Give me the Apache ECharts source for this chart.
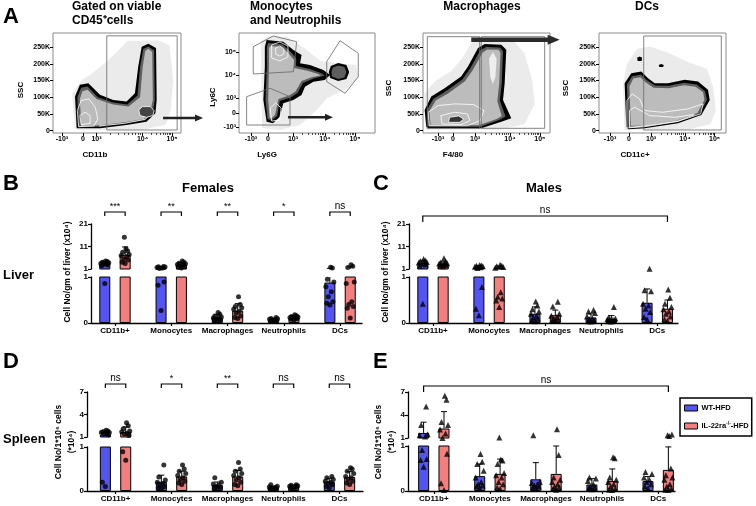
<!DOCTYPE html>
<html>
<head>
<meta charset="utf-8">
<script src="https://cdn.jsdelivr.net/npm/echarts@6/dist/echarts.min.js"></script>
<style>
  html, body { margin: 0; padding: 0; background: #fff; }
  #chart { width: 756px; height: 506px; }
</style>
</head>
<body>
<div id="chart"></div>
<script>
var FONT = 'Liberation Sans, Arial, sans-serif';
var BLUE = '#5454f2', RED = '#f47e7e';
var KO_NAME = 'IL-22ra-/--HFD';

var categories = ['CD11b+', 'Monocytes', 'Macrophages', 'Neutrophils', 'DCs'];

// B: liver, females (x10^4 cells / gm)
var liverFemWtMean = [3.2, 1.4, 0.11, 0.07, 0.88];
var liverFemWtSd   = [1.2, 0.6, 0.07, 0.03, 0.42];
var liverFemKoMean = [7.3, 2.9, 0.27, 0.12, 1.05];
var liverFemKoSd   = [3.5, 0.9, 0.15, 0.04, 0.9];
var liverFemWtPts = [
  [0.86, 2.4, 2.8, 3.0, 3.2, 3.5, 3.8, 4.0, 4.3, 4.6],
  [0.27, 0.82, 0.89, 1.2, 1.5, 1.7, 1.9, 2.0, 2.1],
  [0.03, 0.05, 0.07, 0.08, 0.1, 0.11, 0.13, 0.15, 0.19, 0.23],
  [0.03, 0.04, 0.05, 0.06, 0.07, 0.08, 0.09, 0.1, 0.12],
  [0.39, 0.43, 0.46, 0.57, 0.68, 0.79, 0.89, 0.95, 1.5, 1.8]
];
var liverFemKoPts = [
  [3.5, 4.0, 5.0, 5.5, 6.5, 7.0, 7.5, 8.5, 9.0, 10.0, 15.1],
  [1.5, 1.8, 2.0, 2.3, 2.6, 3.0, 3.3, 3.6, 4.0, 4.6],
  [0.10, 0.12, 0.15, 0.21, 0.25, 0.30, 0.33, 0.36, 0.40, 0.57],
  [0.06, 0.08, 0.09, 0.1, 0.11, 0.12, 0.13, 0.14, 0.16, 0.18],
  [0.11, 0.32, 0.36, 0.4, 0.46, 0.86, 0.89, 1.7, 2.2, 2.9]
];
var liverFemSig = ['***', '**', '**', '*', 'ns'];

// C: liver, males
var liverMaleWtMean = [3.6, 1.7, 0.2, 0.12, 0.44];
var liverMaleWtSd   = [1.3, 0.9, 0.15, 0.08, 0.3];
var liverMaleKoMean = [3.2, 1.4, 0.17, 0.09, 0.31];
var liverMaleKoSd   = [1.0, 0.9, 0.11, 0.07, 0.19];
var liverMaleWtPts = [
  [0.42, 2.5, 3.0, 3.3, 3.6, 3.9, 4.1, 4.4, 4.8, 5.5],
  [0.17, 0.31, 0.78, 1.5, 1.8, 2.0, 2.2, 2.4, 2.6, 2.8],
  [0.04, 0.06, 0.09, 0.12, 0.16, 0.2, 0.25, 0.3, 0.38, 0.47],
  [0.03, 0.04, 0.06, 0.08, 0.1, 0.14, 0.22, 0.25, 0.28],
  [0.08, 0.13, 0.24, 0.31, 0.38, 0.42, 0.69, 0.71, 1.15]
];
var liverMaleKoPts = [
  [2.2, 2.5, 2.8, 3.0, 3.2, 3.4, 3.6, 3.9, 4.3, 5.8],
  [0.35, 0.49, 0.53, 0.57, 0.67, 1.6, 1.9, 2.2, 2.5, 2.9],
  [0.05, 0.06, 0.08, 0.1, 0.13, 0.16, 0.2, 0.36, 0.46],
  [0.03, 0.04, 0.05, 0.06, 0.07, 0.08, 0.1, 0.12, 0.35],
  [0.05, 0.08, 0.14, 0.2, 0.25, 0.3, 0.35, 0.42, 0.55, 0.73]
];
var liverMaleSig = ['ns'];

// D: spleen, females (x10^4 per 10^6 cells)
var spleenFemWtMean = [1.3, 0.21, 0.135, 0.075, 0.21];
var spleenFemWtSd   = [0.6, 0.15, 0.07, 0.03, 0.08];
var spleenFemKoMean = [1.65, 0.33, 0.33, 0.1, 0.32];
var spleenFemKoSd   = [0.7, 0.12, 0.14, 0.03, 0.12];
var spleenFemWtPts = [
  [0.1, 0.2, 1.3, 1.4, 1.5, 1.6, 1.6, 1.7, 1.8, 1.9],
  [0.05, 0.07, 0.1, 0.13, 0.17, 0.2, 0.25, 0.32, 0.59],
  [0.05, 0.06, 0.08, 0.1, 0.13, 0.16, 0.2, 0.3],
  [0.04, 0.05, 0.06, 0.07, 0.08, 0.09, 0.11, 0.14],
  [0.07, 0.1, 0.14, 0.17, 0.2, 0.22, 0.26, 0.3, 0.33]
];
var spleenFemKoPts = [
  [0.7, 0.89, 1.2, 1.4, 1.5, 1.7, 1.8, 2.1, 2.5, 2.9],
  [0.15, 0.18, 0.22, 0.26, 0.3, 0.35, 0.4, 0.45, 0.5, 0.59],
  [0.12, 0.15, 0.2, 0.25, 0.3, 0.35, 0.4, 0.45, 0.5, 0.65],
  [0.06, 0.07, 0.08, 0.09, 0.1, 0.11, 0.12, 0.13, 0.14],
  [0.15, 0.18, 0.22, 0.26, 0.3, 0.33, 0.4, 0.45, 0.5, 0.53]
];
var spleenFemSig = ['ns', '*', '**', 'ns', 'ns'];

// E: spleen, males
var spleenMaleWtMean = [1.66, 0.33, 0.26, 0.145, 0.22];
var spleenMaleWtSd   = [1.4, 0.27, 0.37, 0.13, 0.1];
var spleenMaleKoMean = [2.24, 0.38, 0.38, 0.22, 0.47];
var spleenMaleKoSd   = [2.2, 0.33, 0.62, 0.27, 0.51];
var spleenMaleWtPts = [
  [0.54, 0.69, 0.71, 0.91, 1.2, 1.35, 1.5, 2.7, 5.1],
  [0.06, 0.1, 0.12, 0.15, 0.2, 0.3, 0.45, 0.6, 0.65, 0.82],
  [0.06, 0.08, 0.1, 0.12, 0.15, 0.18, 0.2, 1.35],
  [0.04, 0.06, 0.08, 0.1, 0.15, 0.22, 0.28, 0.3],
  [0.06, 0.1, 0.15, 0.2, 0.25, 0.3, 0.38, 0.42]
];
var spleenMaleKoPts = [
  [0.02, 0.17, 0.83, 1.0, 1.6, 2.1, 2.7, 3.1, 6.0, 6.5],
  [0.05, 0.08, 0.15, 0.2, 0.3, 0.35, 0.4, 0.6, 0.68, 0.7, 1.05],
  [0.03, 0.05, 0.08, 0.1, 0.15, 0.2, 0.25, 0.3, 0.8, 2.15],
  [0.02, 0.03, 0.05, 0.1, 0.15, 0.2, 0.25, 0.3, 0.73, 0.75],
  [0.02, 0.03, 0.05, 0.1, 0.15, 0.25, 0.3, 0.35, 0.5, 1.25, 1.35, 1.45]
];
var spleenMaleSig = ['ns'];

// A: flow plots. x in % of the transformed (biexponential) scale, SSC in K
var logLabels  = ['-10\u00B3', '0', '10\u00B3', '10\u2074', '10\u2075'];
var cd11bTicks = [7, 23.4, 34, 70, 93];
var ly6gTicks  = [8.8, 21.3, 39.7, 63.2, 85.3];
var ly6cTicks  = [6, 20, 35, 58, 81];
var f480Ticks  = [11.8, 23.6, 41, 68.5, 92];
var cd11cTicks = [8.7, 23.6, 41, 67.7, 91];
var sscTicks   = [0, 50, 100, 150, 200, 250];

var cd45Halo  = [[17,8],[15,110],[22,150],[30,170],[40,200],[50,235],[58,268],[82,270],[91,255],[94,150],[92,60],[88,18],[70,3],[20,2]];
var cd45Outer = [[18.5,7],[17.2,102],[21,137],[27.6,142],[36.7,107],[47,92],[57.5,87],[64,112],[66.6,192],[69.3,251],[74.5,260],[80.5,247],[81,92],[80,52],[73,27],[57.4,17],[36.7,7]];
var cd45Inner = [[20,10],[19,100],[22,128],[27,132],[35,100],[47,84],[58,78],[66,105],[68,190],[70.5,244],[74.5,252],[79,240],[79.5,92],[78,55],[72,31],[57,22],[37,12]];
var cd45Light = [[22,14],[21,95],[23,118],[27,122],[34,95],[47,78],[59,72],[68,100],[70,188],[72,238],[74.5,245],[77.5,235],[78,92],[76,57],[71,35],[57,26],[37,16]];
var cd45Rings = [
  [[20,12],[19,60],[22,90],[28,95],[33,70],[35,35],[32,14]],
  [[22,18],[21,45],[25,55],[29,45],[29,22]],
  [[36,14],[56,22],[72,34],[78,58]]
];
var cd45Blob  = [[68,45],[67,62],[70,72],[76,72],[79,60],[78,45],[73,40]];
var cd45Gate  = [[42,2],[42,283.5],[97,283.5],[97,2]];

var ly6Halo   = [[17,5],[16,92],[22,97],[35,96],[48,85],[60,72],[72,70],[86,68],[88,55],[80,45],[65,35],[55,20],[45,8],[30,3]];
var ly6Outer  = [[20.3,93],[32.6,91.3],[40,83],[46,78],[44.9,69.7],[52.2,68],[62,63],[67,58],[63,53],[54.7,51.3],[48.5,46.3],[46,38],[40,33],[32.6,29.7],[30,16.3],[25,9.7],[20.3,11.3],[17.9,33],[19,66.3],[19,86.3]];
var ly6Inner  = [[21.5,90],[32,88.5],[38,81],[42,75],[42,67],[52,64],[60,60],[63,57.5],[55,54.5],[47,50],[43,40],[38,35.5],[30,32],[28,17],[24,12.5],[21,14],[19.5,33],[20.5,66],[20.5,86]];
var ly6Light  = [[23,87],[31.5,86],[36.5,79.5],[40.5,73],[40.5,65],[51,62],[58,59],[60,57.5],[54,56],[46,52],[41.5,41.5],[37,37.5],[29,34],[26.5,18],[23.5,14.5],[22.5,15.5],[21.5,33],[22,66],[22,85]];
var ly6Rings  = [
  [[24,75],[24,88],[30,91],[36,87],[36,76],[30,72]],
  [[27,79],[27,85],[30,87],[33,84],[33,79],[30,77]],
  [[24,12],[23,25],[27,30],[31,25],[30,13]]
];
var ly6NeuOuter = [[67,55],[66,61],[67.5,67],[73,70],[79,68],[81,61],[79,54],[73,52]];
var ly6NeuInner = [[68.5,56.5],[68,61],[69,65.5],[73,67.5],[77.5,66],[79,61],[77.5,55.5],[73,54]];
var ly6Gates  = [
  [[10.5,86.3],[25.2,97],[42.4,91.3],[40,61.3],[10.5,59]],
  [[5.6,36.3],[22.8,44.7],[37.5,36.3],[37.5,8],[5.6,8]],
  [[64.5,71.3],[74.3,92.3],[87.7,79.7],[87.7,56.3],[78,39.7],[64.5,51.3]]
];

var f480Halo  = [[2,3],[1,110],[10,150],[22,178],[30,212],[38,262],[45,277],[70,277],[80,230],[86,150],[88,80],[80,20],[60,3]];
var f480Outer = [[2.6,12],[1.3,62],[6.5,102],[17,127],[30,162],[35.4,192],[43.3,247],[48.6,259],[61.7,257],[65.6,242],[64.3,142],[63,92],[69.5,37],[61.7,27],[45.9,7],[4,7]];
var f480Inner = [[4,14],[3,60],[8,95],[18,118],[31,153],[37,185],[45,240],[49.5,250],[60.5,249],[63,238],[62,140],[60.5,90],[65,42],[60,32],[45,12],[5,12]];
var f480Light = [[6,16],[5,58],[10,90],[20,112],[33,148],[39,180],[47,234],[50.5,243],[59.5,242],[61,234],[60,140],[58.5,88],[62,44],[58,35],[44,16],[7,16]];
var f480Rings = [
  [[5,15],[4,55],[12,75],[25,80],[40,78],[48,60],[45,30],[35,15]],
  [[15,20],[14,45],[25,55],[35,50],[37,30],[30,18]],
  [[20,25],[21,40],[28,44],[32,35],[29,25]]
];
var f480Streak = [[53,160],[52,215],[55,235],[58,215],[57,160],[55,140]];
var f480Gates = [
  [[3.4,7],[3.4,281],[44.6,281],[44.6,7]],
  [[45.9,7],[45.9,281],[95.8,281],[95.8,7]]
];

var cd11cHalo  = [[20,3],[19,140],[22,200],[30,245],[40,252],[55,232],[70,205],[85,185],[90,130],[92,60],[88,20],[70,3]];
var cd11cOuter = [[21.5,12],[20.2,142],[25.4,172],[33.3,177],[38.6,157],[43.9,142],[54.3,142],[67.5,152],[78,147],[85.8,122],[87.2,92],[80.6,47],[62.2,22],[36,7],[22.8,4]];
var cd11cInner = [[23,13],[22,138],[26,163],[33,167],[38,150],[44,135],[55,134],[67,143],[77,138],[83.5,118],[85,92],[79,50],[62,26],[36,11],[24,8]];
var cd11cLight = [[25,15],[24,132],[27,156],[32.5,160],[37,144],[43,128],[55,127],[67,136],[76,131],[82,115],[83,92],[77.5,53],[61,30],[36,15]];
var cd11cRings = [
  [[22,8],[22,90],[26,110],[32,95],[36,60],[50,55],[70,65],[82,80],[80,50],[62,28],[36,12]],
  [[24,10],[24,60],[28,70],[40,45],[60,40],[75,48],[62,28],[36,14]]
];
var cd11cBlobs = [
  [[30.5,208],[30,218],[32,222],[34,218],[33.5,208]],
  [[47.5,190],[47,196],[49,199],[51,196],[50.5,190]]
];
var cd11cGate = [[35.2,2],[35.2,283],[96.3,283],[96.3,2]];

// arrows: [start, end] in the host plot's units
var arrowToLy6   = [[86, 38], [117.2, 38]];
var arrowInLy6   = [[36, 15.7], [69.1, 15.7]];
var arrowToDcs   = [[38, 271.6], [107.6, 271.6]];

var chart = echarts.init(document.getElementById('chart'));
var grids = [], xAxes = [], yAxes = [], series = [];

var HALO  = { fill: 'rgba(0,0,0,0.08)' };
var BLACK = { fill: '#000' };
var GRAY  = { fill: '#5e5e5e' };
var LIGHT = { fill: '#bcbcbc' };
var RING  = { fill: 'none', stroke: '#fff', lineWidth: 0.8 };
var GATE  = { fill: 'none', stroke: '#666', lineWidth: 0.8 };
var tickStyle = { fontSize: 7, fontWeight: 'bold', color: '#000', fontFamily: FONT, margin: 3 };

function nearestLabel(ticks, labels) {
  return function (v) {
    var best = 0;
    ticks.forEach(function (t, k) { if (Math.abs(t - v) < Math.abs(ticks[best] - v)) best = k; });
    return labels[best];
  };
}

function minorLog(ticks) {
  var out = [];
  [[ticks[2], ticks[3]], [ticks[3], ticks[4]]].forEach(function (d) {
    for (var m = 2; m <= 9; m++) out.push(d[0] + (d[1] - d[0]) * Math.log10(m));
  });
  return out;
}

function addFlow(box, xTicks, yCfg, shapes, arrows) {
  var gi = grids.length;
  grids.push({ left: box[0], top: box[1], width: box[2], height: box[3], show: true, borderColor: '#8a8a8a', borderWidth: 1 });
  var xi = xAxes.length, yi = yAxes.length;
  xAxes.push({
    type: 'value', gridIndex: gi, min: 0, max: 100, position: 'bottom',
    axisLine: { show: false, onZero: false }, splitLine: { show: false },
    axisTick: { customValues: xTicks, length: 3, lineStyle: { color: '#000' } },
    axisLabel: Object.assign({ customValues: xTicks, formatter: nearestLabel(xTicks, logLabels) }, tickStyle)
  });
  xAxes.push({
    type: 'value', gridIndex: gi, min: 0, max: 100, position: 'bottom', offset: 0,
    axisLine: { show: false, onZero: false }, splitLine: { show: false }, axisLabel: { show: false },
    axisTick: { customValues: minorLog(xTicks), length: 2, lineStyle: { color: '#000', width: 0.7 } }
  });
  yAxes.push({
    type: 'value', gridIndex: gi, min: yCfg.min, max: yCfg.max, position: 'left',
    axisLine: { show: false, onZero: false }, splitLine: { show: false },
    axisTick: { customValues: yCfg.ticks, length: 3, lineStyle: { color: '#000' } },
    axisLabel: Object.assign({ customValues: yCfg.ticks, formatter: nearestLabel(yCfg.ticks, yCfg.labels) }, tickStyle)
  });
  series.push({
    type: 'custom', xAxisIndex: xi, yAxisIndex: yi, clip: false, silent: true, z: 3,
    data: [[0, yCfg.min]],
    renderItem: function (params, api) {
      var kids = shapes.map(function (s) {
        return {
          type: s.open ? 'polyline' : 'polygon',
          shape: { points: s.pts.map(function (p) { return api.coord(p); }) },
          style: s.style
        };
      });
      arrows.forEach(function (a) {
        var p0 = api.coord(a.pts[0]), p1 = api.coord(a.pts[1]);
        var y = p0[1], w = a.w / 2, h = a.head, hh = a.hh;
        kids.push({
          type: 'polygon',
          shape: { points: [[p0[0], y - w], [p1[0] - h, y - w], [p1[0] - h, y - hh], [p1[0], y],
                            [p1[0] - h, y + hh], [p1[0] - h, y + w], [p0[0], y + w]] },
          style: { fill: a.color }
        });
      });
      return { type: 'group', children: kids };
    }
  });
}

var sscAxis = { min: -7, max: 292, ticks: sscTicks, labels: sscTicks.map(function (v) { return v === 0 ? '0' : v + 'K'; }) };

addFlow([53, 33, 128, 100], cd11bTicks, sscAxis, [
  { pts: cd45Halo, style: HALO },
  { pts: cd45Outer, style: BLACK },
  { pts: cd45Inner, style: GRAY },
  { pts: cd45Light, style: LIGHT },
  { pts: cd45Rings[0], style: RING },
  { pts: cd45Rings[1], style: RING },
  { pts: cd45Rings[2], style: RING, open: true },
  { pts: cd45Blob, style: { fill: '#444', stroke: '#fff', lineWidth: 0.8 } },
  { pts: cd45Gate, style: GATE }
], [{ pts: arrowToLy6, w: 2.6, head: 8, hh: 3.5, color: '#222' }]);

addFlow([239, 33, 136, 100], ly6gTicks, { min: 0, max: 100, ticks: ly6cTicks, labels: logLabels }, [
  { pts: ly6Halo, style: HALO },
  { pts: ly6Outer, style: BLACK },
  { pts: ly6Inner, style: GRAY },
  { pts: ly6Light, style: LIGHT },
  { pts: ly6Rings[0], style: RING },
  { pts: ly6Rings[1], style: RING },
  { pts: ly6Rings[2], style: RING },
  { pts: ly6NeuOuter, style: BLACK },
  { pts: ly6NeuInner, style: GRAY },
  { pts: ly6Gates[0], style: GATE },
  { pts: ly6Gates[1], style: GATE },
  { pts: ly6Gates[2], style: GATE }
], [{ pts: arrowInLy6, w: 2.6, head: 8, hh: 3.5, color: '#222' }]);

addFlow([423, 33, 127, 100], f480Ticks, sscAxis, [
  { pts: f480Halo, style: HALO },
  { pts: f480Outer, style: BLACK },
  { pts: f480Inner, style: GRAY },
  { pts: f480Light, style: LIGHT },
  { pts: f480Rings[0], style: RING },
  { pts: f480Rings[1], style: RING },
  { pts: f480Rings[2], style: { fill: '#333', stroke: '#fff', lineWidth: 0.8 } },
  { pts: f480Streak, style: { fill: '#eee' } },
  { pts: f480Gates[0], style: GATE },
  { pts: f480Gates[1], style: GATE }
], [{ pts: arrowToDcs, w: 4.5, head: 12, hh: 5, color: '#2b2b2b' }]);

addFlow([599, 33, 127, 100], cd11cTicks, sscAxis, [
  { pts: cd11cHalo, style: HALO },
  { pts: cd11cOuter, style: BLACK },
  { pts: cd11cInner, style: GRAY },
  { pts: cd11cLight, style: LIGHT },
  { pts: cd11cRings[0], style: RING },
  { pts: cd11cRings[1], style: RING },
  { pts: cd11cBlobs[0], style: BLACK },
  { pts: cd11cBlobs[1], style: BLACK },
  { pts: cd11cGate, style: GATE }
], []);

// bar panels with a broken y axis: an upper and a lower grid
var OFF = 10.2;
var JITTER = [0, -3, 3, -1.5, 1.5, -4, 4, -2.5, 2.5, 0.8, -0.8, 3.5];

function barSeries(name, means, color, xi, yi) {
  return {
    type: 'bar', name: name, xAxisIndex: xi, yAxisIndex: yi, silent: true,
    data: means.map(function (v, i) { return [i, v]; }),
    barWidth: 11, barGap: '85%',
    itemStyle: { color: color, borderColor: '#000', borderWidth: 1 }
  };
}

function errSeries(means, sds, off, xi, yi) {
  return {
    type: 'custom', xAxisIndex: xi, yAxisIndex: yi, clip: false, silent: true, z: 3,
    data: means.map(function (m, i) { return [i, m, sds[i]]; }),
    renderItem: function (params, api) {
      var cs = params.coordSys;
      var i = api.value(0), m = api.value(1), s = api.value(2);
      var base = api.coord([i, m]), top = api.coord([i, m + s]);
      var x = base[0] + off;
      var yLow = Math.min(base[1], cs.y + cs.height), yHigh = Math.max(top[1], cs.y);
      if (yHigh >= yLow) return null;
      var kids = [{ type: 'line', shape: { x1: x, y1: yLow, x2: x, y2: yHigh }, style: { stroke: '#000', lineWidth: 1 } }];
      if (top[1] >= cs.y) kids.push({ type: 'line', shape: { x1: x - 3, y1: top[1], x2: x + 3, y2: top[1] }, style: { stroke: '#000', lineWidth: 1 } });
      return { type: 'group', children: kids };
    }
  };
}

function dotSeries(pts, off, symbol, lo, hi, xi, yi) {
  var data = [];
  pts.forEach(function (list, i) {
    list.forEach(function (v, k) {
      if (v >= lo && v < hi) data.push({ value: [i, v], symbolOffset: [off + JITTER[k % JITTER.length], 0] });
    });
  });
  return {
    type: 'scatter', xAxisIndex: xi, yAxisIndex: yi, silent: true, clip: false, z: 4,
    data: data, symbol: symbol, symbolSize: symbol === 'triangle' ? 6 : 5,
    itemStyle: { color: '#000' }
  };
}

function sigSeries(p, xi, yi) {
  return {
    type: 'custom', xAxisIndex: xi, yAxisIndex: yi, clip: false, silent: true, z: 5,
    data: p.sigPairs,
    renderItem: function (params, api) {
      var cs = params.coordSys;
      var xa = api.coord([api.value(0), 1])[0] - OFF;
      var xb = api.coord([api.value(1), 1])[0] + OFF;
      var y = cs.y - p.sigGap, h = p.sigTick;
      var t = p.sig[params.dataIndex];
      return {
        type: 'group', children: [
          { type: 'polyline', shape: { points: [[xa, y + h], [xa, y], [xb, y], [xb, y + h]] }, style: { stroke: '#000', lineWidth: 1.2, fill: 'none' } },
          { type: 'text', style: { text: t, x: (xa + xb) / 2, y: y - 1, align: 'center', verticalAlign: 'bottom',
            textAlign: 'center', textVerticalAlign: 'bottom', fontSize: t === 'ns' ? 10 : 9, fontFamily: FONT, fill: '#000' } }
        ]
      };
    }
  };
}

function addPanel(p) {
  var parts = [
    { top: p.up[0], bottom: p.up[1], min: 1, max: p.upMax, ticks: p.upTicks, lower: false },
    { top: p.low[0], bottom: p.low[1], min: 0, max: 1, ticks: [0, 1], lower: true }
  ];
  parts.forEach(function (part) {
    var gi = grids.length;
    grids.push({ left: p.x0, top: part.top, width: p.x1 - p.x0, height: part.bottom - part.top });
    var xi = xAxes.length, yi = yAxes.length;
    xAxes.push({
      type: 'value', gridIndex: gi, min: p.xMin, max: p.xMax, show: part.lower, position: 'bottom',
      axisLine: { show: true, onZero: false, lineStyle: { color: '#000', width: 1.3 } },
      splitLine: { show: false },
      axisTick: { customValues: [0, 1, 2, 3, 4], length: 3, lineStyle: { color: '#000', width: 1.2 } },
      axisLabel: { customValues: [0, 1, 2, 3, 4], formatter: function (v) { return categories[Math.round(v)]; },
        fontSize: 8, fontWeight: 'bold', color: '#000', fontFamily: FONT, margin: 4 }
    });
    yAxes.push({
      type: 'value', gridIndex: gi, min: part.min, max: part.max, position: 'left',
      axisLine: { show: true, onZero: false, lineStyle: { color: '#000', width: 1.3 } },
      splitLine: { show: false },
      axisTick: { show: true, customValues: part.ticks, length: 3, lineStyle: { color: '#000', width: 1.2 } },
      axisLabel: { customValues: part.ticks, fontSize: 8, fontWeight: 'bold', color: '#000', fontFamily: FONT, margin: 3 }
    });
    var lo = part.lower ? -1 : 1, hi = part.lower ? 1 : 1e9;
    series.push(barSeries('WT-HFD', p.wtMean, BLUE, xi, yi));
    series.push(barSeries(KO_NAME, p.koMean, RED, xi, yi));
    series.push(errSeries(p.wtMean, p.wtSd, -OFF, xi, yi));
    series.push(errSeries(p.koMean, p.koSd, OFF, xi, yi));
    series.push(dotSeries(p.wtPts, -OFF, p.symbol, lo, hi, xi, yi));
    series.push(dotSeries(p.koPts, OFF, p.symbol, lo, hi, xi, yi));
    if (!part.lower) series.push(sigSeries(p, xi, yi));
  });
}

var eachCat = [[0, 0], [1, 1], [2, 2], [3, 3], [4, 4]];

addPanel({ x0: 91, x1: 362, xMin: -0.426, xMax: 4.39, up: [224, 269], low: [277, 323], upMax: 21, upTicks: [1, 11, 21],
  wtMean: liverFemWtMean, wtSd: liverFemWtSd, koMean: liverFemKoMean, koSd: liverFemKoSd,
  wtPts: liverFemWtPts, koPts: liverFemKoPts, symbol: 'circle',
  sig: liverFemSig, sigPairs: eachCat, sigGap: 12, sigTick: 4 });

addPanel({ x0: 409, x1: 678, xMin: -0.428, xMax: 4.37, up: [224, 269], low: [277, 323], upMax: 21, upTicks: [1, 11, 21],
  wtMean: liverMaleWtMean, wtSd: liverMaleWtSd, koMean: liverMaleKoMean, koSd: liverMaleKoSd,
  wtPts: liverMaleWtPts, koPts: liverMaleKoPts, symbol: 'triangle',
  sig: liverMaleSig, sigPairs: [[0, 4]], sigGap: 8, sigTick: 6 });

addPanel({ x0: 87, x1: 363, xMin: -0.51, xMax: 4.42, up: [392, 437], low: [447, 491], upMax: 7, upTicks: [1, 4, 7],
  wtMean: spleenFemWtMean, wtSd: spleenFemWtSd, koMean: spleenFemKoMean, koSd: spleenFemKoSd,
  wtPts: spleenFemWtPts, koPts: spleenFemKoPts, symbol: 'circle',
  sig: spleenFemSig, sigPairs: eachCat, sigGap: 8, sigTick: 4 });

addPanel({ x0: 408, x1: 675, xMin: -0.46, xMax: 4.3, up: [392, 438], low: [446, 491], upMax: 7, upTicks: [1, 4, 7],
  wtMean: spleenMaleWtMean, wtSd: spleenMaleWtSd, koMean: spleenMaleKoMean, koSd: spleenMaleKoSd,
  wtPts: spleenMaleWtPts, koPts: spleenMaleKoPts, symbol: 'triangle',
  sig: spleenMaleSig, sigPairs: [[0, 4]], sigGap: 6, sigTick: 6 });

function label(text, left, top, size, align) {
  return { text: text, left: left, top: top, textAlign: align || 'left', padding: 0,
    textStyle: { fontSize: size, fontWeight: 'bold', color: '#000', fontFamily: FONT, lineHeight: size + 2 } };
}

function vtext(text, x, y, size) {
  return { type: 'text', x: x, y: y, rotation: Math.PI / 2, silent: true,
    style: { text: text, fontSize: size, fontWeight: 'bold', fontFamily: FONT, fill: '#000',
      align: 'center', verticalAlign: 'middle', textAlign: 'center', textVerticalAlign: 'middle', lineHeight: size + 4 } };
}

chart.setOption({
  animation: false,
  backgroundColor: '#fff',
  textStyle: { fontFamily: FONT },
  title: [
    label('A', 3, 5, 22),
    label('Gated on viable\nCD45\u207Acells', 72, 0, 12),
    label('Monocytes\nand Neutrophils', 250, 0, 12),
    label('Macrophages', 482, 0, 12, 'center'),
    label('DCs', 647, 0, 12, 'center'),
    label('CD11b', 95, 150, 8, 'center'),
    label('Ly6G', 267, 150, 8, 'center'),
    label('F4/80', 453, 150, 8, 'center'),
    label('CD11c+', 635, 150, 8, 'center'),
    label('B', 3, 172, 22),
    label('C', 373, 172, 22),
    label('D', 3, 350, 22),
    label('E', 373, 350, 22),
    label('Females', 208, 181, 13, 'center'),
    label('Males', 544, 181, 13, 'center'),
    label('Liver', 3, 268, 13),
    label('Spleen', 3, 432, 13)
  ],
  graphic: [
    vtext('SSC', 21, 90, 8),
    vtext('Ly6C', 213, 97, 8),
    vtext('SSC', 389, 88, 8),
    vtext('SSC', 566, 88, 8),
    vtext('Cell No/gm of liver (x10\u2074)', 68, 272, 8.5),
    vtext('Cell No/gm of liver (x10\u2074)', 386, 272, 8.5),
    vtext('Cell No/1*10\u2076 cells\n(*10\u2074)', 65, 442, 8.5),
    vtext('Cell No/1*10\u2076 cells\n(*10\u2074)', 385, 442, 8.5)
  ],
  legend: {
    data: ['WT-HFD', KO_NAME], orient: 'vertical', left: 680, top: 398, selectedMode: false,
    icon: 'rect', itemWidth: 13, itemHeight: 6, itemGap: 9,
    borderColor: '#000', borderWidth: 1.5, padding: [6, 3, 6, 4],
    itemStyle: { borderColor: '#000', borderWidth: 1 },
    formatter: function (name) {
      return name === KO_NAME ? 'IL-22ra{sup|-/-}-HFD' : name;
    },
    textStyle: { fontSize: 7.5, fontWeight: 'bold', color: '#000', fontFamily: FONT, padding: [0, 0, 0, -1],
      rich: { sup: { fontSize: 5, fontWeight: 'bold', fontFamily: FONT, color: '#000', padding: [0, 0, 5, 0] } } }
  },
  grid: grids,
  xAxis: xAxes,
  yAxis: yAxes,
  series: series
});

window.addEventListener('resize', function () {
  chart.resize();
});
</script>
</body>
</html>
